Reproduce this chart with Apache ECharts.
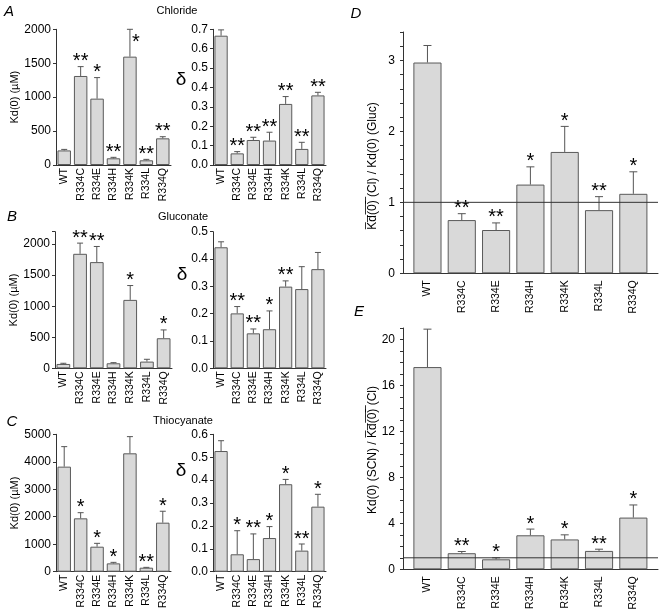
<!DOCTYPE html>
<html><head><meta charset="utf-8">
<script src="https://cdn.jsdelivr.net/npm/echarts@6/dist/echarts.min.js"></script>
<style>html,body{margin:0;padding:0;background:#fff}#c{width:663px;height:615px}</style>
</head><body><div id="c"></div>
<script>
const categories = ['WT','R334C','R334E','R334H','R334K','R334L','R334Q'];
// A  Chloride
const kdCl = [215, 1312, 978, 99, 1597, 69, 393];
const kdClErr = [230, 1450, 1288, 113, 2000, 83, 417];
const kdClStars = ['', '**', '*', '**', '*', '**', '**'];
const deltaCl = [0.667, 0.060, 0.129, 0.126, 0.315, 0.083, 0.359];
const deltaClErr = [0.697, 0.069, 0.143, 0.169, 0.353, 0.117, 0.375];
const deltaClStars = ['', '**', '**', '**', '**', '**', '**'];
// B  Gluconate
const kdGluc = [70, 1844, 1710, 81, 1102, 108, 484];
const kdGlucErr = [81, 2016, 1962, 91, 1333, 145, 618];
const kdGlucStars = ['', '**', '**', '', '*', '', '*'];
const deltaGluc = [0.443, 0.201, 0.128, 0.143, 0.299, 0.290, 0.363];
const deltaGlucErr = [0.463, 0.226, 0.144, 0.210, 0.320, 0.372, 0.424];
const deltaGlucStars = ['', '**', '**', '*', '**', '', ''];
// C  Thiocyanate
const kdSCN = [3823, 1942, 910, 303, 4308, 146, 1784];
const kdSCNErr = [4551, 2148, 1032, 340, 4915, 158, 2200];
const kdSCNStars = ['', '*', '*', '*', '', '**', '*'];
const deltaSCN = [0.527, 0.076, 0.055, 0.147, 0.382, 0.092, 0.284];
const deltaSCNErr = [0.572, 0.179, 0.165, 0.197, 0.403, 0.121, 0.338];
const deltaSCNStars = ['', '*', '**', '*', '*', '**', '*'];
// D  Kd(Cl)/Kd(Gluc)
const ratioClGluc = [2.97, 0.75, 0.61, 1.25, 1.71, 0.89, 1.12];
const ratioClGlucErr = [3.21, 0.84, 0.71, 1.50, 2.07, 1.08, 1.43];
const ratioClGlucStars = ['', '**', '**', '*', '*', '**', '*'];
// E  Kd(SCN)/Kd(Cl)
const ratioSCNCl = [17.6, 1.40, 0.87, 2.96, 2.60, 1.60, 4.50];
const ratioSCNClErr = [20.9, 1.55, 1.00, 3.50, 3.00, 1.75, 5.60];
const ratioSCNClStars = ['', '**', '*', '*', '*', '**', '*'];
const referenceLevel = 1;
// tick labels
const kdClTicks = [0, 500, 1000, 1500, 2000];
const kdGlucTicks = [0, 500, 1000, 1500, 2000];
const kdSCNTicks = [0, 1000, 2000, 3000, 4000, 5000];
const deltaClTicks = [0, 0.1, 0.2, 0.3, 0.4, 0.5, 0.6, 0.7];
const deltaGlucTicks = [0, 0.1, 0.2, 0.3, 0.4, 0.5];
const deltaSCNTicks = [0, 0.1, 0.2, 0.3, 0.4, 0.5, 0.6];
const ratioDTicks = [0, 1, 2, 3];
const ratioETicks = [0, 4, 8, 12, 16, 20];

const FONT = "'Liberation Sans', Arial, Helvetica, sans-serif";
const BAR_FILL = '#d9d9d9', BAR_EDGE = '#5a5a5a', ERR = '#555', AXIS = '#333', TXT = '#000';
const grids = [], xAxes = [], yAxes = [], series = [];
const inTicks = (ticks, v) => ticks.some(t => Math.abs(t - v) < 1e-9);

function addBars(gi, vals, errs, stars, yMax, capHalf, gap) {
  series.push({type: 'bar', xAxisIndex: gi, yAxisIndex: gi, data: vals, barCategoryGap: gap,
    itemStyle: {color: BAR_FILL, borderColor: BAR_EDGE, borderWidth: 1}, silent: true});
  series.push({type: 'custom', xAxisIndex: gi, yAxisIndex: gi, z: 3, silent: true,
    data: vals.map((v, i) => [i, v, errs[i]]), encode: {x: 0, y: [1, 2]},
    renderItem: (params, api) => {
      const p0 = api.coord([api.value(0), api.value(1)]);
      const p1 = api.coord([api.value(0), api.value(2)]);
      return {type: 'group', children: [
        {type: 'line', shape: {x1: p0[0], y1: p0[1], x2: p1[0], y2: p1[1]}, style: {stroke: ERR, lineWidth: 1}},
        {type: 'line', shape: {x1: p1[0] - capHalf, y1: p1[1], x2: p1[0] + capHalf, y2: p1[1]}, style: {stroke: ERR, lineWidth: 1}}
      ]};
    }});
  series.push({type: 'custom', xAxisIndex: gi, yAxisIndex: gi, z: 4, silent: true,
    data: errs.map((e, i) => [i, e]), encode: {x: 0, y: 1},
    renderItem: (params, api) => {
      const s = stars[params.dataIndex];
      if (!s) return null;
      const p = api.coord([api.value(0), api.value(1)]);
      const atTop = api.value(1) >= yMax * 0.999;
      return {type: 'text', x: atTop ? p[0] + 2 : p[0], y: atTop ? p[1] + 13 : p[1] - 5,
        style: {text: s, font: '20px ' + FONT, fill: TXT, align: atTop ? 'left' : 'center', verticalAlign: 'middle'}};
    }});
}

function leftPanel(rect, vals, errs, stars, yMax, interval, ticks, decimals, name) {
  const gi = grids.length;
  grids.push({left: rect[0], top: rect[1], width: rect[2], height: rect[3]});
  xAxes.push({gridIndex: gi, type: 'category', data: categories,
    axisLine: {lineStyle: {color: AXIS}}, axisTick: {show: false},
    axisLabel: {rotate: 90, interval: 0, fontSize: 10.5, fontFamily: FONT, color: TXT, margin: 3}});
  yAxes.push({gridIndex: gi, type: 'value', min: 0, max: yMax, interval: interval,
    splitLine: {show: false}, axisLine: {show: true, lineStyle: {color: AXIS}},
    axisTick: {show: true, length: 3, lineStyle: {color: AXIS}},
    axisLabel: {fontSize: 12, fontFamily: FONT, color: TXT, margin: 5,
      formatter: v => inTicks(ticks, v) ? v.toFixed(decimals) : ''},
    name: name || '', nameLocation: 'middle', nameGap: 36,
    nameTextStyle: {fontSize: 11, fontFamily: FONT, color: TXT}});
  addBars(gi, vals, errs, stars, yMax, 3, '18%');
}

function ratioPanel(frame, inner, vals, errs, stars, yMax, interval, ticks) {
  const gf = grids.length;
  grids.push({left: frame[0], top: frame[1], width: frame[2], height: frame[3]});
  xAxes.push({gridIndex: gf, type: 'value', min: 0, max: 1,
    axisLine: {show: true, lineStyle: {color: AXIS}}, axisTick: {show: false},
    axisLabel: {show: false}, splitLine: {show: false}});
  yAxes.push({gridIndex: gf, type: 'value', min: 0, max: yMax, interval: interval,
    splitLine: {show: false}, axisLine: {show: true, lineStyle: {color: AXIS}},
    axisTick: {show: true, length: 3, lineStyle: {color: AXIS}},
    axisLabel: {fontSize: 12, fontFamily: FONT, color: TXT, margin: 8,
      formatter: v => inTicks(ticks, v) ? String(Math.round(v)) : ''}});
  series.push({type: 'line', xAxisIndex: gf, yAxisIndex: gf, z: 10, silent: true,
    data: [[0, referenceLevel], [1, referenceLevel]], symbol: 'none',
    lineStyle: {color: '#333', width: 1}});
  const gi = grids.length;
  grids.push({left: inner[0], top: frame[1], width: inner[1], height: frame[3]});
  xAxes.push({gridIndex: gi, type: 'category', data: categories,
    axisLine: {show: false}, axisTick: {show: false},
    axisLabel: {rotate: 90, interval: 0, fontSize: 10.5, fontFamily: FONT, color: TXT, margin: 7}});
  yAxes.push({gridIndex: gi, type: 'value', min: 0, max: yMax, show: false});
  addBars(gi, vals, errs, stars, yMax, 4, '18%');
}

const kdName = 'Kd(0) (\u00b5M)';
leftPanel([56, 29.3, 115, 135.7], kdCl, kdClErr, kdClStars, 2000, 500, kdClTicks, 0, kdName);
leftPanel([213, 29.3, 113, 135.7], deltaCl, deltaClErr, deltaClStars, 0.7, 0.1, deltaClTicks, 1);
leftPanel([55, 231.7, 117, 136.6], kdGluc, kdGlucErr, kdGlucStars, 2200, 500, kdGlucTicks, 0, kdName);
leftPanel([213, 231.7, 113, 136.6], deltaGluc, deltaGlucErr, deltaGlucStars, 0.5, 0.1, deltaGlucTicks, 1);
leftPanel([56, 434.3, 115, 137.4], kdSCN, kdSCNErr, kdSCNStars, 5000, 1000, kdSCNTicks, 0, kdName);
leftPanel([213, 434.3, 113, 137.4], deltaSCN, deltaSCNErr, deltaSCNStars, 0.6, 0.1, deltaSCNTicks, 1);
ratioPanel([403, 32, 255, 241.3], [410.3, 240.2], ratioClGluc, ratioClGlucErr, ratioClGlucStars, 3.4, 0.2, ratioDTicks);
ratioPanel([403, 328, 255, 241.3], [410.3, 240.2], ratioSCNCl, ratioSCNClErr, ratioSCNClStars, 21, 1, ratioETicks);

const OL = 'K\u0305d\u0305(\u03050\u0305)\u0305';
const txt = (x, y, text, size, extra) => Object.assign({type: 'text', x: x, y: y, silent: true,
  style: Object.assign({text: text, font: size + 'px ' + FONT, fill: TXT, align: 'center', verticalAlign: 'middle'}, extra || {})});
const graphics = [
  txt(177, 11, 'Chloride', 11), txt(183, 217, 'Gluconate', 11), txt(183, 421, 'Thiocyanate', 11),
  txt(9, 12, 'A', 15, {font: 'italic 15px ' + FONT}),
  txt(12, 217, 'B', 15, {font: 'italic 15px ' + FONT}),
  txt(12, 422, 'C', 15, {font: 'italic 15px ' + FONT}),
  txt(356, 14, 'D', 15, {font: 'italic 15px ' + FONT}),
  txt(359, 312, 'E', 15, {font: 'italic 15px ' + FONT}),
  txt(181, 80, '\u03b4', 19), txt(182, 275, '\u03b4', 19), txt(181, 471, '\u03b4', 19),
  Object.assign(txt(372.5, 166, OL + ' (Cl) / Kd(0) (Gluc)', 12), {rotation: Math.PI / 2}),
  Object.assign(txt(373, 450, 'Kd(0) (SCN) / ' + OL + ' (Cl)', 12), {rotation: Math.PI / 2})
];

const chart = echarts.init(document.getElementById('c'), null, {renderer: 'canvas'});
chart.setOption({animation: false, backgroundColor: '#fff', grid: grids, xAxis: xAxes, yAxis: yAxes, series: series, graphic: graphics});
</script></body></html>
